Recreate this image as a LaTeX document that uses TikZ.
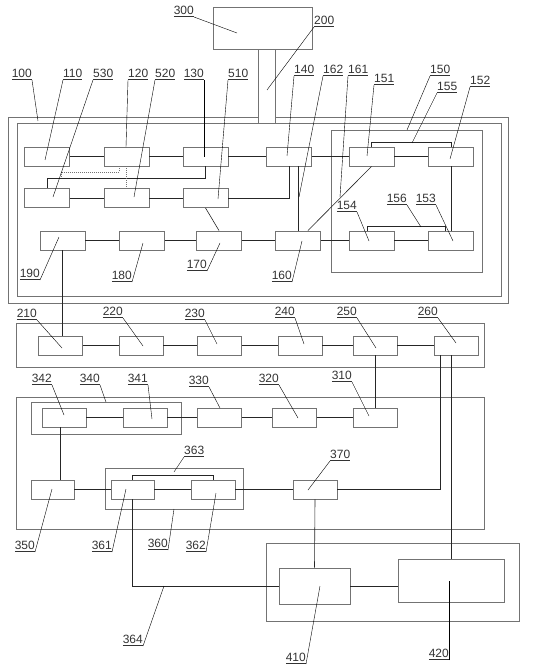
\documentclass[tikz,border=0pt]{standalone}
\usepackage{fontspec}
\setmainfont{Liberation Sans}
\usetikzlibrary{calc}
\tikzset{
    mybox/.style={
        draw=black!55,      % 方框颜色
        line width=0.9pt,
        minimum width=45pt,
        minimum height=19pt,
        inner sep=0pt
    },
    myframe/.style={draw=black!55, line width=0.9pt, inner sep=0pt},
    myline/.style={draw=black!85, line width=0.6pt},
    mydot/.style={draw=black!55, line width=0.6pt, dash pattern=on 1pt off 1pt},
    mylead/.style={draw=black, line width=0.4pt},
    mylbl/.style={inner sep=0pt, text=black!80, font=\fontsize{12}{14}\selectfont}
}

\begin{document}
\begin{tikzpicture}[x=1pt, y=-1pt]
\useasboundingbox (0,0) rectangle (541,671);

% 外框
\node[myframe, minimum width=99pt, minimum height=42pt] (n300) at (262.5,28) {};
\node[myframe, minimum width=484pt, minimum height=173pt] (k100) at (259,209.5) {};
\node[myframe, minimum width=151pt, minimum height=142pt] (k150) at (406.5,201) {};
\node[myframe, minimum width=468pt, minimum height=44pt] (k200) at (250,345) {};
\node[myframe, minimum width=468pt, minimum height=132pt] (k300) at (250,463) {};
\node[myframe, minimum width=150pt, minimum height=32pt] (k340) at (106,418) {};
\node[myframe, minimum width=138pt, minimum height=41pt] (k360) at (174,488.5) {};
\node[myframe, minimum width=253pt, minimum height=78pt] (k400) at (392.5,582) {};

\coordinate (G1) at (258,117);
\coordinate (G2) at (275,117);
\draw[myframe] (G1) -- (8,117) -- (8,303) -- (508,303) -- (508,117) -- (G2);
\draw[myframe] ([xshift=-4.5pt]n300.south) -- ([xshift=-4.5pt]n300.south |- k100.north);
\draw[myframe] ([xshift=12.5pt]n300.south) -- ([xshift=12.5pt]n300.south |- k100.north);

% 方框
\node[mybox] (b110) at (47,156.5) {};
\node[mybox] (b120) at (126.5,156.5) {};
\node[mybox] (b130) at (205.5,156.5) {};
\node[mybox] (b140) at (289,156.5) {};
\node[mybox] (b151) at (371.5,156.5) {};
\node[mybox] (b152) at (451,156.5) {};

\node[mybox] (b530) at (47,198) {};
\node[mybox] (b520) at (126.5,198) {};
\node[mybox] (b510) at (205.5,198) {};

\node[mybox] (b190) at (62.5,240.5) {};
\node[mybox] (b180) at (142,240.5) {};
\node[mybox] (b170) at (219,240.5) {};
\node[mybox] (b160) at (298,240.5) {};
\node[mybox] (b154) at (371.5,240.5) {};
\node[mybox] (b153) at (451,240.5) {};

\node[mybox, minimum width=44pt] (c210) at (60.5,345.5) {};
\node[mybox, minimum width=44pt] (c220) at (141,345.5) {};
\node[mybox, minimum width=44pt] (c230) at (219.5,345.5) {};
\node[mybox, minimum width=44pt] (c240) at (300,345.5) {};
\node[mybox, minimum width=44pt] (c250) at (375,345.5) {};
\node[mybox, minimum width=44pt] (c260) at (456,345.5) {};

\node[mybox, minimum width=44pt] (d342) at (64,417.5) {};
\node[mybox, minimum width=44pt] (d341) at (145,417.5) {};
\node[mybox, minimum width=44pt] (d330) at (219.5,417.5) {};
\node[mybox, minimum width=44pt] (d320) at (294.5,417.5) {};
\node[mybox, minimum width=44pt] (d310) at (375,417.5) {};

\node[mybox, minimum width=43pt] (e350) at (52.5,489.5) {};
\node[mybox, minimum width=43pt] (e361) at (132.5,489.5) {};
\node[mybox, minimum width=44pt] (e362) at (213,489.5) {};
\node[mybox, minimum width=44pt] (e370) at (315,489.5) {};

\node[mybox, minimum width=71pt, minimum height=36pt] (f410) at (314.5,586) {};
\node[mybox, minimum width=106pt, minimum height=43pt] (f420) at (451,580.5) {};

% 连线
\draw[myline] (b110) -- (b120);
\draw[myline] (b120) -- (b130);
\draw[myline] (b130) -- (b140);
\draw[myline] (b140) -- (b151);
\draw[myline] (b151) -- (b152);
\draw[myline] (b530) -- (b520);
\draw[myline] (b520) -- (b510);
\draw[myline] (b510.east) -| (b140.south);
\draw[myline] (b130.south) -- ++(0,12) coordinate (T1) -| (b530.north);
\draw[mydot] ([xshift=-7.5pt]b120.south) -- ++(0,6) -| ([xshift=14pt]b530.north |- T1);
\draw[mydot] ([xshift=-0.5pt]b120.south) -- ([xshift=-0.5pt]b520.north);
\draw[myline] (b510.south) -- (b170.north);
\draw[myline] (b190) -- (b180);
\draw[myline] (b180) -- (b170);
\draw[myline] (b170) -- (b160);
\draw[myline] (b160) -- (b154);
\draw[myline] (b154) -- (b153);
\draw[myline] (b160.north) -- (b160.north |- b140.south);
\draw[myline] (b151.south) -- ([xshift=-13pt]b160.north east);
\draw[myline] (b152.south) -- (b153.north);
\draw[myline] (b151.north) -- ++(0,-4) -| (b152.north);
\draw[myline] ([xshift=-4.5pt]b154.north) -- ++(0,-4) -| ([xshift=-6pt]b153.north);

\draw[myline] (b190.south) -- (b190.south |- c210.north);
\draw[myline] (c210) -- (c220);
\draw[myline] (c220) -- (c230);
\draw[myline] (c230) -- (c240);
\draw[myline] (c240) -- (c250);
\draw[myline] (c250) -- (c260);
\draw[myline] (c250.south) -- (d310.north);
\draw[myline] ([xshift=-16pt]c260.south) |- (e370.east);
\draw[myline] (f420.north) -- (f420.north |- c260.south);

\draw[myline] (d342) -- (d341);
\draw[myline] (d341) -- (d330);
\draw[myline] (d330) -- (d320);
\draw[myline] (d320) -- (d310);
\draw[myline] ([xshift=-4pt]d342.south) -- ([xshift=-4pt]d342.south |- e350.north);
\draw[myline] (e350) -- (e361);
\draw[myline] (e361) -- (e362);
\draw[myline] (e362) -- (e370);
\draw[myline] (e361.north) -- ++(0,-4) -| (e362.north);
\draw[myline] (e370.south) -- (f410.north);
\draw[myline] (e361.south) |- (f410.west);
\draw[myline] (f410.east) -- (f410.east -| f420.west);

% 标号
\node[mylbl, anchor=south east] (l300) at (194,17) {\underline{300}};
\draw[mylead] (l300.south east) -- (237,33);
\node[mylbl, anchor=south west] (l200) at (314,27) {\underline{200}};
\draw[mylead] (l200.south west) -- (267,90);
\node[mylbl, anchor=south east] (l100) at (32,80) {\underline{100}};
\draw[mylead] (l100.south east) -- (38,121);
\node[mylbl, anchor=south west] (l110) at (63,80) {\underline{110}};
\draw[mylead] (l110.south west) -- (45,160);
\node[mylbl, anchor=south west] (l530) at (93,80) {\underline{530}};
\draw[mylead] (l530.south west) -- (53,197);
\node[mylbl, anchor=south west] (l120) at (128,80) {\underline{120}};
\draw[mylead] (l120.south west) -- (126,147);
\node[mylbl, anchor=south west] (l520) at (155,80) {\underline{520}};
\draw[mylead] (l520.south west) -- (134,197);
\node[mylbl, anchor=south east] (l130) at (204,80) {\underline{130}};
\draw[mylead] (l130.south east) -- (204,157);
\node[mylbl, anchor=south west] (l510) at (228,80) {\underline{510}};
\draw[mylead] (l510.south west) -- (218,199);
\node[mylbl, anchor=south west] (l140) at (294,76) {\underline{140}};
\draw[mylead] (l140.south west) -- (287,156);
\node[mylbl, anchor=south west] (l162) at (323,76) {\underline{162}};
\draw[mylead] (l162.south west) -- (299,197);
\node[mylbl, anchor=south west] (l161) at (348,76) {\underline{161}};
\draw[mylead] (l161.south west) -- (340,197);
\node[mylbl, anchor=south west] (l151) at (374,85) {\underline{151}};
\draw[mylead] (l151.south west) -- (367,156);
\node[mylbl, anchor=south west] (l150) at (430,76) {\underline{150}};
\draw[mylead] (l150.south west) -- (407,130);
\node[mylbl, anchor=south west] (l155) at (437,93) {\underline{155}};
\draw[mylead] (l155.south west) -- (412,143);
\node[mylbl, anchor=south west] (l152) at (470,87) {\underline{152}};
\draw[mylead] (l152.south west) -- (450,159);
\node[mylbl, anchor=south east] (l154) at (357,212) {\underline{154}};
\draw[mylead] (l154.south east) -- (369,241);
\node[mylbl, anchor=south east] (l156) at (407,205) {\underline{156}};
\draw[mylead] (l156.south east) -- (421,227);
\node[mylbl, anchor=south east] (l153) at (436,205) {\underline{153}};
\draw[mylead] (l153.south east) -- (453,241);
\node[mylbl, anchor=south east] (l160) at (292,282) {\underline{160}};
\draw[mylead] (l160.south east) -- (302,241);
\node[mylbl, anchor=south east] (l190) at (40,280) {\underline{190}};
\draw[mylead] (l190.south east) -- (59,237);
\node[mylbl, anchor=south east] (l180) at (132,282) {\underline{180}};
\draw[mylead] (l180.south east) -- (143,243);
\node[mylbl, anchor=south east] (l170) at (207,271) {\underline{170}};
\draw[mylead] (l170.south east) -- (220,243);

\node[mylbl, anchor=south east] (l210) at (37,320) {\underline{210}};
\draw[mylead] (l210.south east) -- (62,348);
\node[mylbl, anchor=south east] (l220) at (123,318) {\underline{220}};
\draw[mylead] (l220.south east) -- (143,346);
\node[mylbl, anchor=south east] (l230) at (205,320) {\underline{230}};
\draw[mylead] (l230.south east) -- (217,344);
\node[mylbl, anchor=south east] (l240) at (295,318) {\underline{240}};
\draw[mylead] (l240.south east) -- (304,344);
\node[mylbl, anchor=south east] (l250) at (357,318) {\underline{250}};
\draw[mylead] (l250.south east) -- (376,348);
\node[mylbl, anchor=south east] (l260) at (438,318) {\underline{260}};
\draw[mylead] (l260.south east) -- (456,343);

\node[mylbl, anchor=south east] (l342) at (52,385) {\underline{342}};
\draw[mylead] (l342.south east) -- (64,415);
\node[mylbl, anchor=south east] (l340) at (100,385) {\underline{340}};
\draw[mylead] (l340.south east) -- (106,402);
\node[mylbl, anchor=south east] (l341) at (148,385) {\underline{341}};
\draw[mylead] (l341.south east) -- (152,419);
\node[mylbl, anchor=south east] (l330) at (209,387) {\underline{330}};
\draw[mylead] (l330.south east) -- (220,408);
\node[mylbl, anchor=south east] (l320) at (279,385) {\underline{320}};
\draw[mylead] (l320.south east) -- (298,418);
\node[mylbl, anchor=south east] (l310) at (352,382) {\underline{310}};
\draw[mylead] (l310.south east) -- (369,416);
\node[mylbl, anchor=south west] (l363) at (184,457) {\underline{363}};
\draw[mylead] (l363.south west) -- (174,472);
\node[mylbl, anchor=south west] (l370) at (330,461) {\underline{370}};
\draw[mylead] (l370.south west) -- (308,490);
\node[mylbl, anchor=south east] (l350) at (35,552) {\underline{350}};
\draw[mylead] (l350.south east) -- (52,489);
\node[mylbl, anchor=south east] (l361) at (112,552) {\underline{361}};
\draw[mylead] (l361.south east) -- (126,489);
\node[mylbl, anchor=south east] (l360) at (168,550) {\underline{360}};
\draw[mylead] (l360.south east) -- (174,509);
\node[mylbl, anchor=south east] (l362) at (206,552) {\underline{362}};
\draw[mylead] (l362.south east) -- (216,493);
\node[mylbl, anchor=south east] (l364) at (143,646) {\underline{364}};
\draw[mylead] (l364.south east) -- (164,586);
\node[mylbl, anchor=south east] (l410) at (306,664) {\underline{410}};
\draw[mylead] (l410.south east) -- (320,586);
\node[mylbl, anchor=south east] (l420) at (449,660) {\underline{420}};
\draw[mylead] (l420.south east) -- (449,581);

\end{tikzpicture}
\end{document}
